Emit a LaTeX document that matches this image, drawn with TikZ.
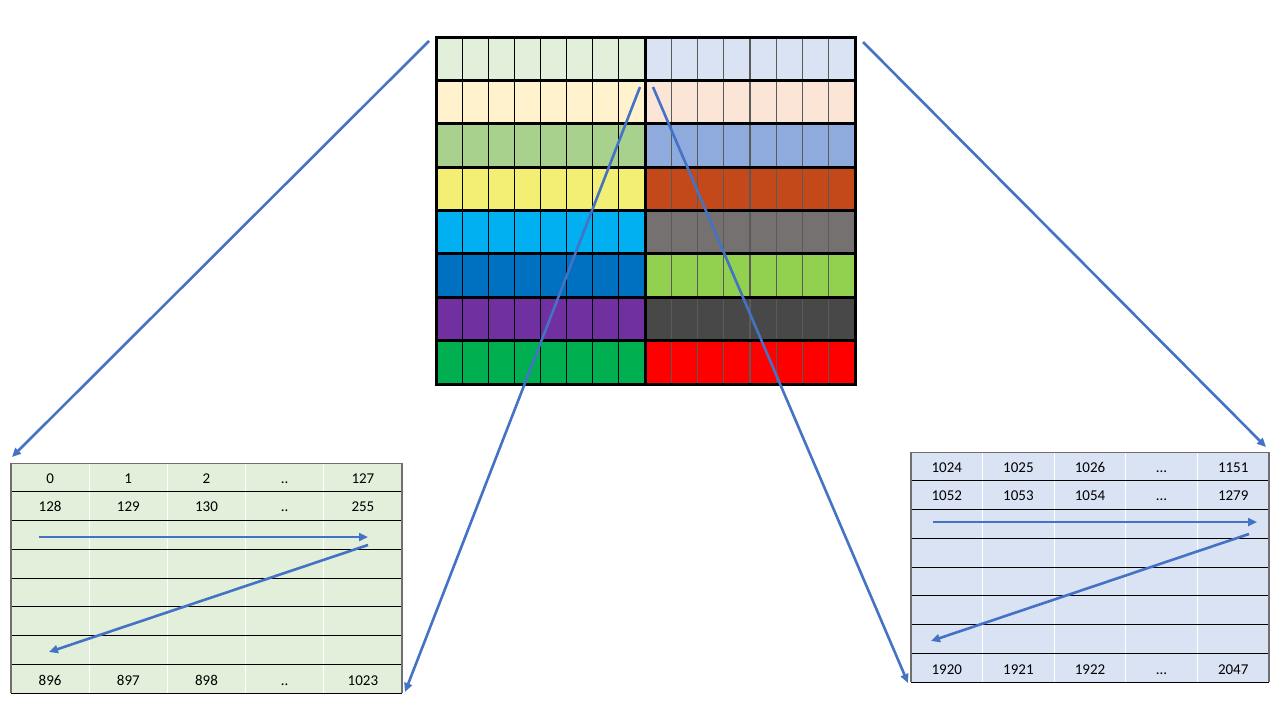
\documentclass[tikz,border=0pt]{standalone}
\usepackage{fontspec}
\setmainfont{Carlito}
\usetikzlibrary{arrows.meta}
\definecolor{blu}{HTML}{4472C4}
\definecolor{L1}{HTML}{E2EFDA}
\definecolor{L2}{HTML}{FFF2CC}
\definecolor{L3}{HTML}{A9D18E}
\definecolor{L4}{HTML}{F2EF74}
\definecolor{L5}{HTML}{00B0F0}
\definecolor{L6}{HTML}{0070C0}
\definecolor{L7}{HTML}{7030A0}
\definecolor{L8}{HTML}{00B050}
\definecolor{R1}{HTML}{DAE3F3}
\definecolor{R2}{HTML}{FBE5D6}
\definecolor{R3}{HTML}{8FAADC}
\definecolor{R4}{HTML}{C4491A}
\definecolor{R5}{HTML}{767171}
\definecolor{R6}{HTML}{92D050}
\definecolor{R7}{HTML}{484848}
\definecolor{R8}{HTML}{FF0000}
\definecolor{rgray}{HTML}{5A5A5A}
\definecolor{bgray}{HTML}{6F6F6F}
\begin{document}
\begin{tikzpicture}[x=1pt,y=-1pt,
  conn/.style={draw=blu,line width=2.6pt,-{Triangle[length=9pt,width=8pt]}},
  cell/.style={font=\fontsize{15}{18}\selectfont, inner sep=0pt, anchor=base},
  thinv/.style={line width=1.2pt},
  thick/.style={line width=3pt}]
\useasboundingbox (0,0) rectangle (1280,720);
\fill[white] (0,0) rectangle (1280,720);

% ---------- top grid ----------
\node[minimum width=419pt, minimum height=347pt, inner sep=0pt, draw=none] (grid) at (645.5,210.5) {};
\foreach \i in {1,...,8} {
  \fill[L\i] (436,{37+(\i-1)*43.375}) rectangle (645,{37+\i*43.375});
  \fill[R\i] (645,{37+(\i-1)*43.375}) rectangle (855,{37+\i*43.375});
}
\foreach \j in {1,...,7} {
  \draw[thinv,black] ({436+\j*26.125},37) -- ({436+\j*26.125},384);
  \draw[thinv,rgray] ({645+\j*26.25},37) -- ({645+\j*26.25},384);
}
\foreach \i in {1,...,7} {
  \draw[thick] (436,{37+\i*43.375}) -- (855,{37+\i*43.375});
}
\draw[thick] (645,37) -- (645,384);
\draw[thick] (436,37) rectangle (855,384);

% ---------- left table ----------
\fill[L1] (11,463) rectangle (402,693);
\foreach \j in {1,...,4} \draw[white,line width=1pt] ({11+\j*78.2},463) -- ({11+\j*78.2},693);
\foreach \i in {1,...,7} \draw[black,line width=1pt] (11,{463+\i*28.75}) -- (402,{463+\i*28.75});
\draw[bgray,line width=1pt] (11,463) -- (402,463);
\draw[black,line width=1pt] (11,693) -- (402,693);
\draw[bgray,line width=1.2pt] (11,463) -- (11,693);
\draw[bgray,line width=1.2pt] (402,463) -- (402,693);
\node[cell] (la0) at (50.1,483) {0};
\node[cell] (la1) at (128.3,483) {1};
\node[cell] (la2) at (206.5,483) {2};
\node[cell] (la3) at (284.7,483) {..};
\node[cell] (la4) at (362.9,483) {127};
\node[cell] (lb0) at (50.1,511.8) {128};
\node[cell] (lb1) at (128.3,511.8) {129};
\node[cell] (lb2) at (206.5,511.8) {130};
\node[cell] (lb3) at (284.7,511.8) {..};
\node[cell] (lb4) at (362.9,511.8) {255};
\node[cell] (lc0) at (50.1,685.2) {896};
\node[cell] (lc1) at (128.3,685.2) {897};
\node[cell] (lc2) at (206.5,685.2) {898};
\node[cell] (lc3) at (284.7,685.2) {..};
\node[cell] (lc4) at (362.9,685.2) {1023};

% ---------- right table ----------
\fill[R1] (911,452) rectangle (1269,682);
\foreach \j in {1,...,4} \draw[white,line width=1pt] ({911+\j*71.6},452) -- ({911+\j*71.6},682);
\foreach \i in {1,...,7} \draw[black,line width=1pt] (911,{452+\i*28.75}) -- (1269,{452+\i*28.75});
\draw[bgray,line width=1pt] (911,452) -- (1269,452);
\draw[black,line width=1pt] (911,682) -- (1269,682);
\draw[bgray,line width=1.2pt] (911,452) -- (911,682);
\draw[bgray,line width=1.2pt] (1269,452) -- (1269,682);
\node[cell] (ra0) at (946.8,472) {1024};
\node[cell] (ra1) at (1018.4,472) {1025};
\node[cell] (ra2) at (1090,472) {1026};
\node[cell] (ra3) at (1161.6,472) {...};
\node[cell] (ra4) at (1233.2,472) {1151};
\node[cell] (rb0) at (946.8,500.8) {1052};
\node[cell] (rb1) at (1018.4,500.8) {1053};
\node[cell] (rb2) at (1090,500.8) {1054};
\node[cell] (rb3) at (1161.6,500.8) {...};
\node[cell] (rb4) at (1233.2,500.8) {1279};
\node[cell] (rc0) at (946.8,674.2) {1920};
\node[cell] (rc1) at (1018.4,674.2) {1921};
\node[cell] (rc2) at (1090,674.2) {1922};
\node[cell] (rc3) at (1161.6,674.2) {...};
\node[cell] (rc4) at (1233.2,674.2) {2047};

% ---------- connector end points ----------
\coordinate (a1s) at (429,41);  \coordinate (a1e) at (12,457);
\coordinate (a2s) at (863,42);  \coordinate (a2e) at (1266,447);
\coordinate (a3s) at (640,87);  \coordinate (a3e) at (405,692);
\coordinate (a4s) at (653,87);  \coordinate (a4e) at (908,683);
\coordinate (lh1) at (39,537);  \coordinate (lh2) at (368,537);
\coordinate (ld1) at (368,545); \coordinate (ld2) at (49,652);
\coordinate (rh1) at (933,522); \coordinate (rh2) at (1257,522);
\coordinate (rd1) at (1249,534);\coordinate (rd2) at (931,641);

\draw[conn] (a1s) -- (a1e);
\draw[conn] (a2s) -- (a2e);
\draw[conn] (a3s) -- (a3e);
\draw[conn] (a4s) -- (a4e);
\draw[conn] (lh1) -- (lh2);
\draw[conn] (ld1) -- (ld2);
\draw[conn] (rh1) -- (rh2);
\draw[conn] (rd1) -- (rd2);
\end{tikzpicture}
\end{document}
